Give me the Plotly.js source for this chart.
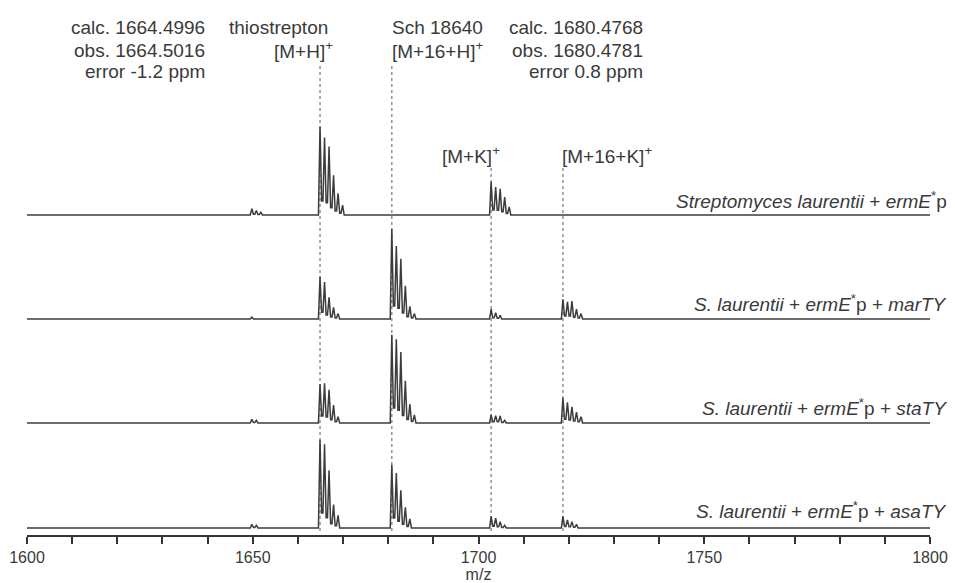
<!DOCTYPE html>
<html><head><meta charset="utf-8">
<script src="https://cdn.plot.ly/plotly-3.0.1.min.js"></script>
<style>html,body{margin:0;padding:0;background:#fff}#chart{width:955px;height:583px}</style>
</head><body><div id="chart"></div>
<script>
// m/z of the first (monoisotopic) peak of each isotope cluster; isotopes follow at +1 Da
const clusterMz = [1649.8, 1664.9, 1680.8, 1702.8, 1718.7];
// relative intensities of the isotope peaks of each cluster, per sample
const laurentii = [[7, 5, 3], [98, 86, 76, 44, 24, 11], [], [37, 31, 29, 20, 9], []];
const marTY     = [[2], [47, 41, 24, 13, 6], [100, 81, 67, 37, 14, 6], [11, 7, 4], [22, 19, 20, 11, 6]];
const staTY     = [[4, 3], [43, 44, 37, 20, 7], [98, 93, 79, 47, 21, 9], [9, 8, 8, 3], [28, 23, 18, 12, 7]];
const asaTY     = [[4, 3], [98, 93, 64, 26, 14], [70, 61, 42, 23, 10], [13, 11, 7, 3], [13, 9, 7, 4]];
const sampleLabels = [
  '<i>Streptomyces laurentii</i> + <i>ermE</i><sup>*</sup>p',
  '<i>S. laurentii</i> + <i>ermE</i><sup>*</sup>p + <i>marTY</i>',
  '<i>S. laurentii</i> + <i>ermE</i><sup>*</sup>p + <i>staTY</i>',
  '<i>S. laurentii</i> + <i>ermE</i><sup>*</sup>p + <i>asaTY</i>'
];
// reference m/z marked by dotted lines
const markerMz = [1664.9, 1680.8, 1702.8, 1718.7];
const tickVals = [1600, 1650, 1700, 1750, 1800];
const tickText = ['1600', '1650', '1700', '1750', '1800'];
const mzStart = 1600, mzEnd = 1800;

// ---- layout / styling (positions in pixel-like units of the stacked plot) ----
const H = 535;                       // plot area height
const W = 903;                       // plot area width
const pxY = p => H - p;              // page pixel row -> y value
const offsets = [pxY(215), pxY(319), pxY(423), pxY(528)];
const scale = 0.9;
const samples = [laurentii, marTY, staTY, asaTY];
const FONT = '"Liberation Sans", Arial, Helvetica, sans-serif';
const TXT = '#3a3a3a';

function buildTrace(sample, base) {
  const xs = [mzStart], ys = [base];
  clusterMz.forEach((m0, c) => {
    const h = sample[c];
    if (!h.length) return;
    xs.push(m0 - 0.35); ys.push(base);
    h.forEach((v, i) => {
      const m = m0 + i;
      xs.push(m); ys.push(base + v * scale);
      if (i < h.length - 1) {
        const valley = base + 0.18 * Math.min(v, h[i + 1]) * scale;
        xs.push(m + 0.35, m + 0.65); ys.push(valley, valley);
      } else {
        xs.push(m + 0.35); ys.push(base);
      }
    });
  });
  xs.push(mzEnd); ys.push(base);
  return {x: xs, y: ys, type: 'scatter', mode: 'lines',
    line: {color: '#3c3c3c', width: 1.5}, hoverinfo: 'skip', showlegend: false};
}

const data = samples.map((s, k) => buildTrace(s, offsets[k]));

const lineTops = [pxY(66), pxY(66), pxY(168), pxY(168)];
const shapes = markerMz.map((m, i) => ({
  type: 'line', xref: 'x', yref: 'y', x0: m, x1: m, y0: lineTops[i], y1: pxY(531),
  line: {color: '#8a8a8a', width: 1.4, dash: 'dot'}, layer: 'below'
}));

function ann(text, px, py, anchor, size) {
  return {text: text, x: (px - 27) / W, y: (H - py) / H, xref: 'paper', yref: 'paper', xanchor: anchor,
    yanchor: 'middle', showarrow: false, borderpad: 0,
    font: {family: FONT, size: size || 19, color: TXT}};
}
const annotations = [
  ann('calc. 1664.4996', 206, 27, 'right'),
  ann('obs. 1664.5016', 206, 50, 'right'),
  ann('error -1.2 ppm', 206, 72, 'right'),
  ann('thiostrepton', 329, 27, 'right'),
  ann('[M+H]<sup>+</sup>', 334, 50, 'right'),
  ann('Sch 18640', 391, 27, 'left'),
  ann('[M+16+H]<sup>+</sup>', 391, 50, 'left'),
  ann('calc. 1680.4768', 644, 27, 'right'),
  ann('obs. 1680.4781', 644, 50, 'right'),
  ann('error 0.8 ppm', 644, 72, 'right'),
  ann('[M+K]<sup>+</sup>', 441, 155, 'left'),
  ann('[M+16+K]<sup>+</sup>', 561, 155, 'left')
];
const labelRows = [200, 303, 407, 510];
sampleLabels.forEach((t, k) => annotations.push(ann(t, 948, labelRows[k], 'right')));

const layout = {
  width: 955, height: 583,
  margin: {l: 27, r: 25, t: 0, b: 48},
  paper_bgcolor: '#ffffff', plot_bgcolor: '#ffffff',
  showlegend: false,
  font: {family: FONT, color: TXT},
  xaxis: {
    range: [mzStart, mzEnd], showgrid: false, zeroline: false,
    showline: true, linecolor: '#333', linewidth: 2,
    ticks: 'outside', ticklen: 7, tickwidth: 2, tickcolor: '#333',
    tickvals: tickVals, ticktext: tickText,
    tickfont: {family: FONT, size: 16, color: TXT},
    minor: {dtick: 10, ticks: 'outside', ticklen: 7, tickwidth: 2, tickcolor: '#333', showgrid: false},
    title: {text: 'm/z', font: {family: FONT, size: 16, color: TXT}, standoff: 10}
  },
  yaxis: {range: [0, H], visible: false, fixedrange: true},
  shapes: shapes,
  annotations: annotations
};

Plotly.newPlot('chart', data, layout, {staticPlot: true, displayModeBar: false});
</script>
</body></html>
